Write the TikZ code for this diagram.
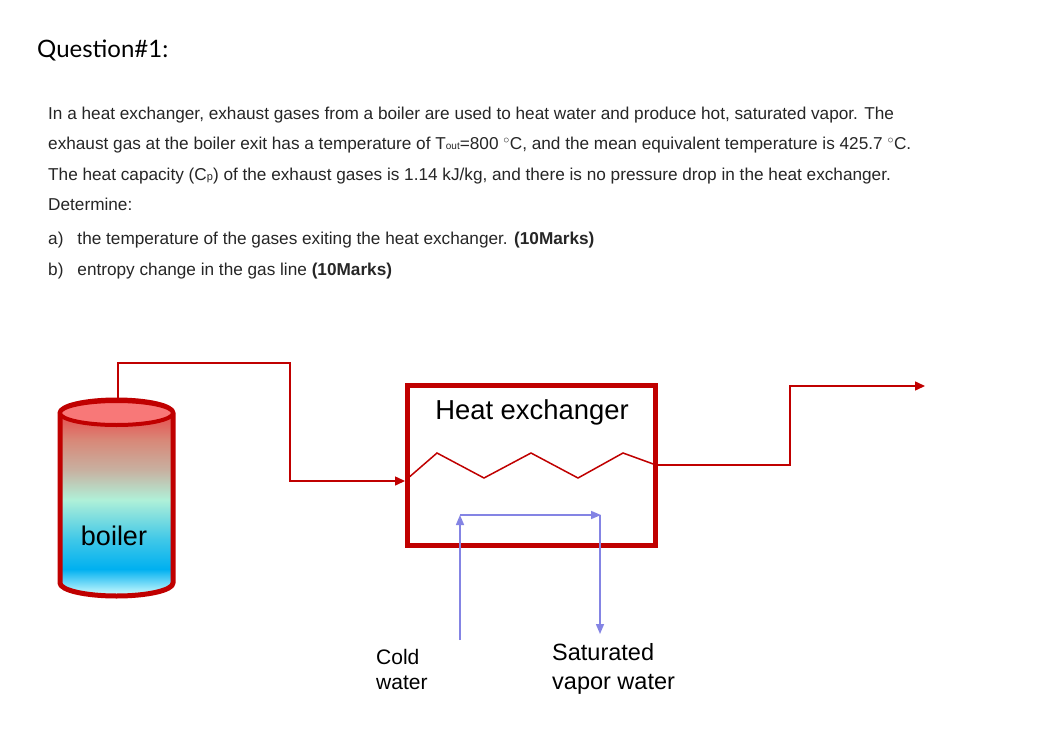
\documentclass[tikz,border=0pt]{standalone}
\usepackage{fontspec}
\setmainfont{Liberation Sans}
\newfontfamily\lato{Lato}
\usetikzlibrary{arrows.meta}
\definecolor{pred}{HTML}{C00000}
\definecolor{pblue}{HTML}{8484E4}
\definecolor{ptop}{HTML}{F87878}
\pgfdeclareverticalshading{boilershade}{100bp}{
 color(0bp)=(white!85!cyan); color(25bp)=(white!85!cyan); color(31.9bp)=(rgb,255:red,0;green,176;blue,240);
 color(39.5bp)=(rgb,255:red,64;green,200;blue,232); color(49.6bp)=(rgb,255:red,176;green,240;blue,216);
 color(57.2bp)=(rgb,255:red,200;green,176;blue,160); color(64.8bp)=(rgb,255:red,216;green,136;blue,120);
 color(71.2bp)=(rgb,255:red,232;green,80;blue,80); color(100bp)=(rgb,255:red,232;green,80;blue,80)}
\tikzset{
 txt/.style={anchor=base west, inner sep=0pt, font=\fontsize{17.2}{20}\selectfont, text=black!85},
 lbl/.style={anchor=base west, inner sep=0pt, font=\fontsize{23.5}{26}\selectfont, align=left},
 redpipe/.style={draw=pred, line width=1.5pt},
 bluepipe/.style={draw=pblue, line width=1.5pt},
 redarrow/.style={-{Triangle[length=10pt,width=9pt]}},
 bluearrow/.style={-{Triangle[length=10pt,width=8pt]}}
}
\begin{document}
\begin{tikzpicture}[x=1pt,y=-1pt]
\useasboundingbox[fill=white] (0,0) rectangle (1051,738);
\node[anchor=base west, inner sep=0pt, font=\lato\fontsize{24}{28}\selectfont] (q) at (37,58) {Question\#1:};
\node[txt] (l1) at (48,120) {In a heat exchanger, exhaust gases from a boiler are used to heat water and produce hot, saturated vapor. The};
\node[txt] (l2) at (48,150) {exhaust gas at the boiler exit has a temperature of T{\fontsize{10}{10}\selectfont out}=800 $^{\circ}$C, and the mean equivalent temperature is 425.7 $^{\circ}$C.};
\node[txt] (l3) at (48,180) {The heat capacity (C{\fontsize{11}{11}\selectfont p}) of the exhaust gases is 1.14 kJ/kg, and there is no pressure drop in the heat exchanger.};
\node[txt] (l4) at (48,210) {Determine:};
\node[txt] (l5) at (48,244) {a)\hspace{14pt}the temperature of the gases exiting the heat exchanger. \textbf{(10Marks)}};
\node[txt] (l6) at (48,275) {b)\hspace{14pt}entropy change in the gas line \textbf{(10Marks)}};
% boiler
\shade[shading=boilershade] (60,413) -- (60,583) arc[start angle=180,end angle=0,x radius=56.5,y radius=13] -- (173,413) arc[start angle=0,end angle=-180,x radius=56.5,y radius=13] -- cycle;
\draw[pred, line width=5pt, line join=round] (60,413) -- (60,583) arc[start angle=180,end angle=0,x radius=56.5,y radius=13] -- (173,413) arc[start angle=0,end angle=-180,x radius=56.5,y radius=13] -- cycle;
\draw[pred, line width=4pt, fill=ptop] (116.5,413) ellipse[x radius=56.5,y radius=12];
\node[inner sep=0pt, font=\fontsize{27}{30}\selectfont] (boiler) at (114,536) {boiler};
\coordinate (btop) at (118,400);
% heat exchanger
\node[draw=pred, line width=5pt, minimum width=248pt, minimum height=160pt, inner sep=0pt] (hx) at (531.5,465.5) {};
\node[inner sep=0pt, font=\fontsize{27.4}{30}\selectfont] (hxl) at (532,412) {Heat exchanger};
\coordinate (hin) at (405,481);
\draw[redpipe, redarrow] (btop) -- (118,363) -- (290,363) -- (290,481) -- (hin);
\draw[redpipe] (407,479) -- (437,453) -- (484,478) -- (531,453) -- (578,478) -- (623,453) -- (656,465);
\coordinate (hout) at (925,386);
\draw[redpipe, redarrow] (656,465) -- (790,465) -- (790,386) -- (hout);
% water
\coordinate (cw) at (460,640);
\coordinate (sv) at (600,634);
\draw[bluepipe, bluearrow] (cw) -- (460,515);
\draw[bluepipe, bluearrow] (460,515) -- (601,515);
\draw[bluepipe, bluearrow] (600,515) -- (sv);
\node[lbl, font=\fontsize{21}{25}\selectfont] (cwl) at (376,689) {Cold\\water};
\node[lbl, font=\fontsize{23.5}{29}\selectfont] (svl) at (552,689) {Saturated\\vapor water};
\end{tikzpicture}
\end{document}
